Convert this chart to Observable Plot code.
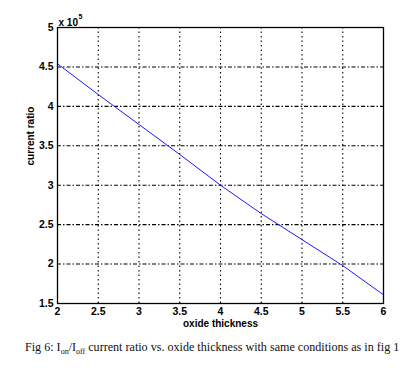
<!DOCTYPE html>
<html>
<head>
<meta charset="utf-8">
<script src="https://cdn.jsdelivr.net/npm/d3@7"></script>
<script src="https://cdn.jsdelivr.net/npm/@observablehq/plot@0.6"></script>
<style>
  html, body { margin: 0; padding: 0; background: #fff; }
  #caption { font-family: "Liberation Serif", "Times New Roman", serif; font-size: 12.1px; color: #111; position: absolute; left: 25px; top: 340px; white-space: nowrap; }
</style>
</head>
<body>
<div id="chart"></div>
<div id="caption">Fig 6: I<sub style="font-size:8px">on</sub>/I<sub style="font-size:8px">off</sub> current ratio vs. oxide thickness with same conditions as in fig 1</div>
<script>
const thickness = [2, 2.5, 3, 3.5, 4, 4.5, 5, 5.5, 6];
const ratio = [4.54, 4.15, 3.77, 3.39, 3.0, 2.64, 2.31, 1.98, 1.61]; // x 10^5
const xTicks = [2, 2.5, 3, 3.5, 4, 4.5, 5, 5.5, 6];
const yTicks = [1.5, 2, 2.5, 3, 3.5, 4, 4.5, 5];

const data = thickness.map((t, i) => ({t, r: ratio[i]}));
const fmt = d => String(d);

const chart = Plot.plot({
  width: 413,
  height: 335,
  marginLeft: 57,
  marginRight: 30,
  marginTop: 27,
  marginBottom: 32,
  style: {fontFamily: "'Liberation Sans', Arial, sans-serif", fontSize: "10.5px", fontWeight: "bold", color: "#000", background: "#fff"},
  x: {domain: [2, 6], ticks: xTicks, tickFormat: fmt, tickSize: 0, tickPadding: 4, label: null},
  y: {domain: [1.5, 5], ticks: yTicks, tickFormat: fmt, tickSize: 0, tickPadding: 4, label: null},
  marks: [
    Plot.ruleX(xTicks.slice(1, -1), {stroke: "#000", strokeWidth: 1.1, strokeDasharray: "1.5,3"}),
    Plot.ruleY(yTicks.slice(1, -1), {stroke: "#000", strokeWidth: 1.1, strokeDasharray: "4,2,1.5,2"}),
    Plot.line(data, {x: "t", y: "r", stroke: "#1a1aff", strokeWidth: 1}),
    Plot.frame({stroke: "#000", strokeWidth: 1.3}),
    Plot.text(["oxide thickness"], {frameAnchor: "bottom", dy: 23, fontSize: 10, fontWeight: "bold", fill: "#000"}),
    Plot.text(["current ratio"], {frameAnchor: "left", dx: -27, rotate: -90, fontSize: 10, fontWeight: "bold", fill: "#000"}),
    Plot.text(["x 10"], {frameAnchor: "top-left", dy: -9, dx: 1, textAnchor: "start", fontSize: 10, fontWeight: "bold", fill: "#000"}),
    Plot.text(["5"], {frameAnchor: "top-left", dy: -13, dx: 21, textAnchor: "start", fontSize: 7, fontWeight: "bold", fill: "#000"})
  ]
});
document.getElementById("chart").appendChild(chart);
</script>
</body>
</html>
